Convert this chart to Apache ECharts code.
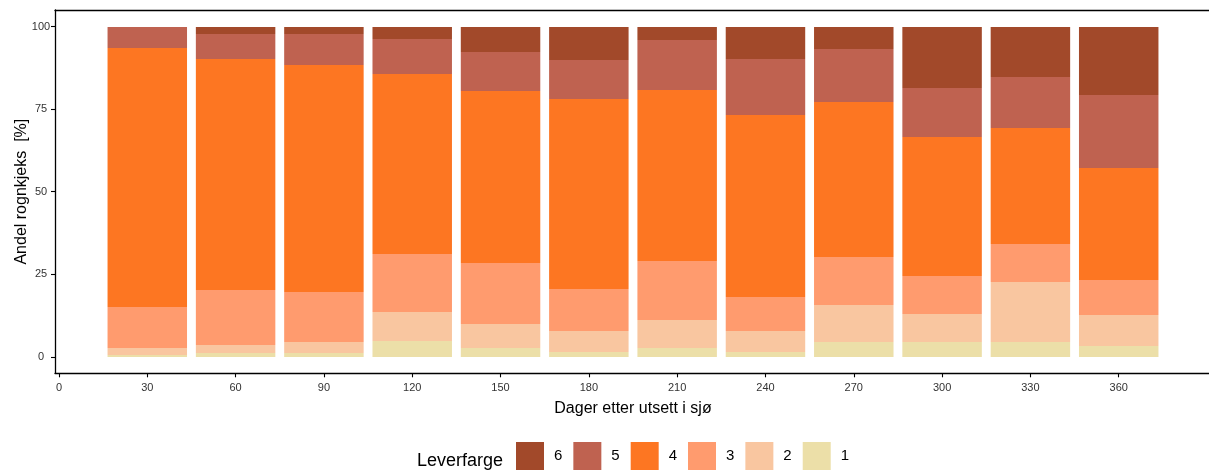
<!DOCTYPE html>
<html>
<head>
<meta charset="utf-8">
<script src="https://cdn.jsdelivr.net/npm/echarts@6/dist/echarts.min.js"></script>
<style>
  html, body { margin: 0; padding: 0; background: #fff; }
  #chart { width: 1209px; height: 471px; }
</style>
</head>
<body>
<div id="chart"></div>
<script>
// Dager etter utsett i sjø
const days = [30, 60, 90, 120, 150, 180, 210, 240, 270, 300, 330, 360];

// andel (%) per leverfarge, lest av figuren
const farge1 = [0.5, 1.0, 1.0, 4.9, 2.8, 1.6, 2.8, 1.3, 4.6, 4.6, 4.6, 3.4];
const farge2 = [2.3, 2.7, 3.6, 8.8, 7.0, 6.1, 8.2, 6.4, 11.2, 8.5, 17.9, 9.4];
const farge3 = [12.4, 16.4, 14.9, 17.3, 18.5, 12.7, 17.9, 10.3, 14.3, 11.5, 11.8, 10.6];
const farge4 = [78.4, 70.2, 68.7, 54.5, 52.3, 57.8, 52.0, 55.1, 46.9, 41.8, 35.1, 33.9];
const farge5 = [6.4, 7.3, 9.4, 10.6, 11.8, 11.8, 14.9, 17.2, 16.3, 15.1, 15.2, 22.1];
const farge6 = [0.0, 2.4, 2.4, 3.9, 7.6, 10.0, 4.2, 9.7, 6.7, 18.5, 15.4, 20.6];

const xTicks = [0, 30, 60, 90, 120, 150, 180, 210, 240, 270, 300, 330, 360];
const yTicks = [0, 25, 50, 75, 100];

const levels = [
    { name: '1', data: farge1, color: '#ECDFA8' },
    { name: '2', data: farge2, color: '#F9C6A0' },
    { name: '3', data: farge3, color: '#FF9B6E' },
    { name: '4', data: farge4, color: '#FD7622' },
    { name: '5', data: farge5, color: '#BF6250' },
    { name: '6', data: farge6, color: '#A2492A' }
];

const barDays = 27;   // søylebredde i dager
const font = 'Liberation Sans, Arial, sans-serif';
const myChart = echarts.init(document.getElementById('chart'), null, { renderer: 'canvas' });

// stable søylene selv: [dag, nedre, øvre]
const bottoms = days.map(() => 0);
const series = levels.map(l => {
    const data = days.map((d, i) => {
        const lo = bottoms[i];
        bottoms[i] = lo + l.data[i];
        return [d, lo, bottoms[i]];
    });
    return {
        name: l.name,
        type: 'custom',
        itemStyle: { color: l.color, borderWidth: 0 },
        encode: { x: 0, y: [1, 2] },
        renderItem: (params, api) => {
            const x = api.value(0);
            const p0 = api.coord([x - barDays / 2, api.value(2)]);
            const p1 = api.coord([x + barDays / 2, api.value(1)]);
            const top = Math.round(p0[1]);
            const bot = Math.round(p1[1]);
            return {
                type: 'rect',
                shape: { x: p0[0], y: top, width: p1[0] - p0[0], height: bot - top },
                style: { fill: l.color, stroke: null, lineWidth: 0 }
            };
        },
        data: data
    };
});

const option = {
    animation: false,
    backgroundColor: '#fff',
    textStyle: { fontFamily: font },
    grid: { left: 55, top: 10, width: 1156, height: 363.3, outerBoundsMode: 'none', containLabel: false },
    xAxis: [{
        type: 'value',
        min: -1.35,
        max: 391.35,
        name: 'Dager etter utsett i sjø',
        nameLocation: 'middle',
        nameGap: 27,
        nameMoveOverlap: false,
        nameTextStyle: { fontSize: 16, color: '#000', fontFamily: font },
        splitLine: { show: false },
        axisLine: { show: true, onZero: false, lineStyle: { color: '#000', width: 1.3 } },
        axisTick: { show: true, length: 4, customValues: xTicks, lineStyle: { color: '#000', width: 1.1 } },
        axisLabel: { customValues: xTicks, margin: 9, fontSize: 11, color: '#333', fontFamily: font }
    }, {
        type: 'value',
        position: 'top',
        min: -1.35,
        max: 391.35,
        splitLine: { show: false },
        axisLine: { show: true, onZero: false, lineStyle: { color: '#000', width: 1.3 } },
        axisTick: { show: false },
        axisLabel: { show: false }
    }],
    yAxis: {
        type: 'value',
        min: -5,
        max: 105,
        name: 'Andel rognkjeks  [%]',
        nameLocation: 'middle',
        nameGap: 25,
        nameMoveOverlap: false,
        nameTextStyle: { fontSize: 16, color: '#000', fontFamily: font },
        splitLine: { show: false },
        axisLine: { show: true, onZero: false, lineStyle: { color: '#000', width: 1.3 } },
        axisTick: { show: true, length: 4, customValues: yTicks, lineStyle: { color: '#000', width: 1.1 } },
        axisLabel: { customValues: yTicks, margin: 14, align: 'center', fontSize: 11, color: '#333', fontFamily: font }
    },
    legend: {
        data: ['6', '5', '4', '3', '2', '1'],
        left: 516,
        top: 442,
        padding: 0,
        orient: 'horizontal',
        itemWidth: 28,
        itemHeight: 28,
        itemGap: 11,
        icon: 'rect',
        selectedMode: false,
        textStyle: { fontSize: 15, color: '#000', fontFamily: font, padding: [9, 0, 0, 5] }
    },
    graphic: [{
        type: 'text',
        left: 417,
        top: 452,
        style: { text: 'Leverfarge', font: '18px ' + font, fill: '#000' }
    }],
    series: series
};

option && myChart.setOption(option, true);
</script>
</body>
</html>
